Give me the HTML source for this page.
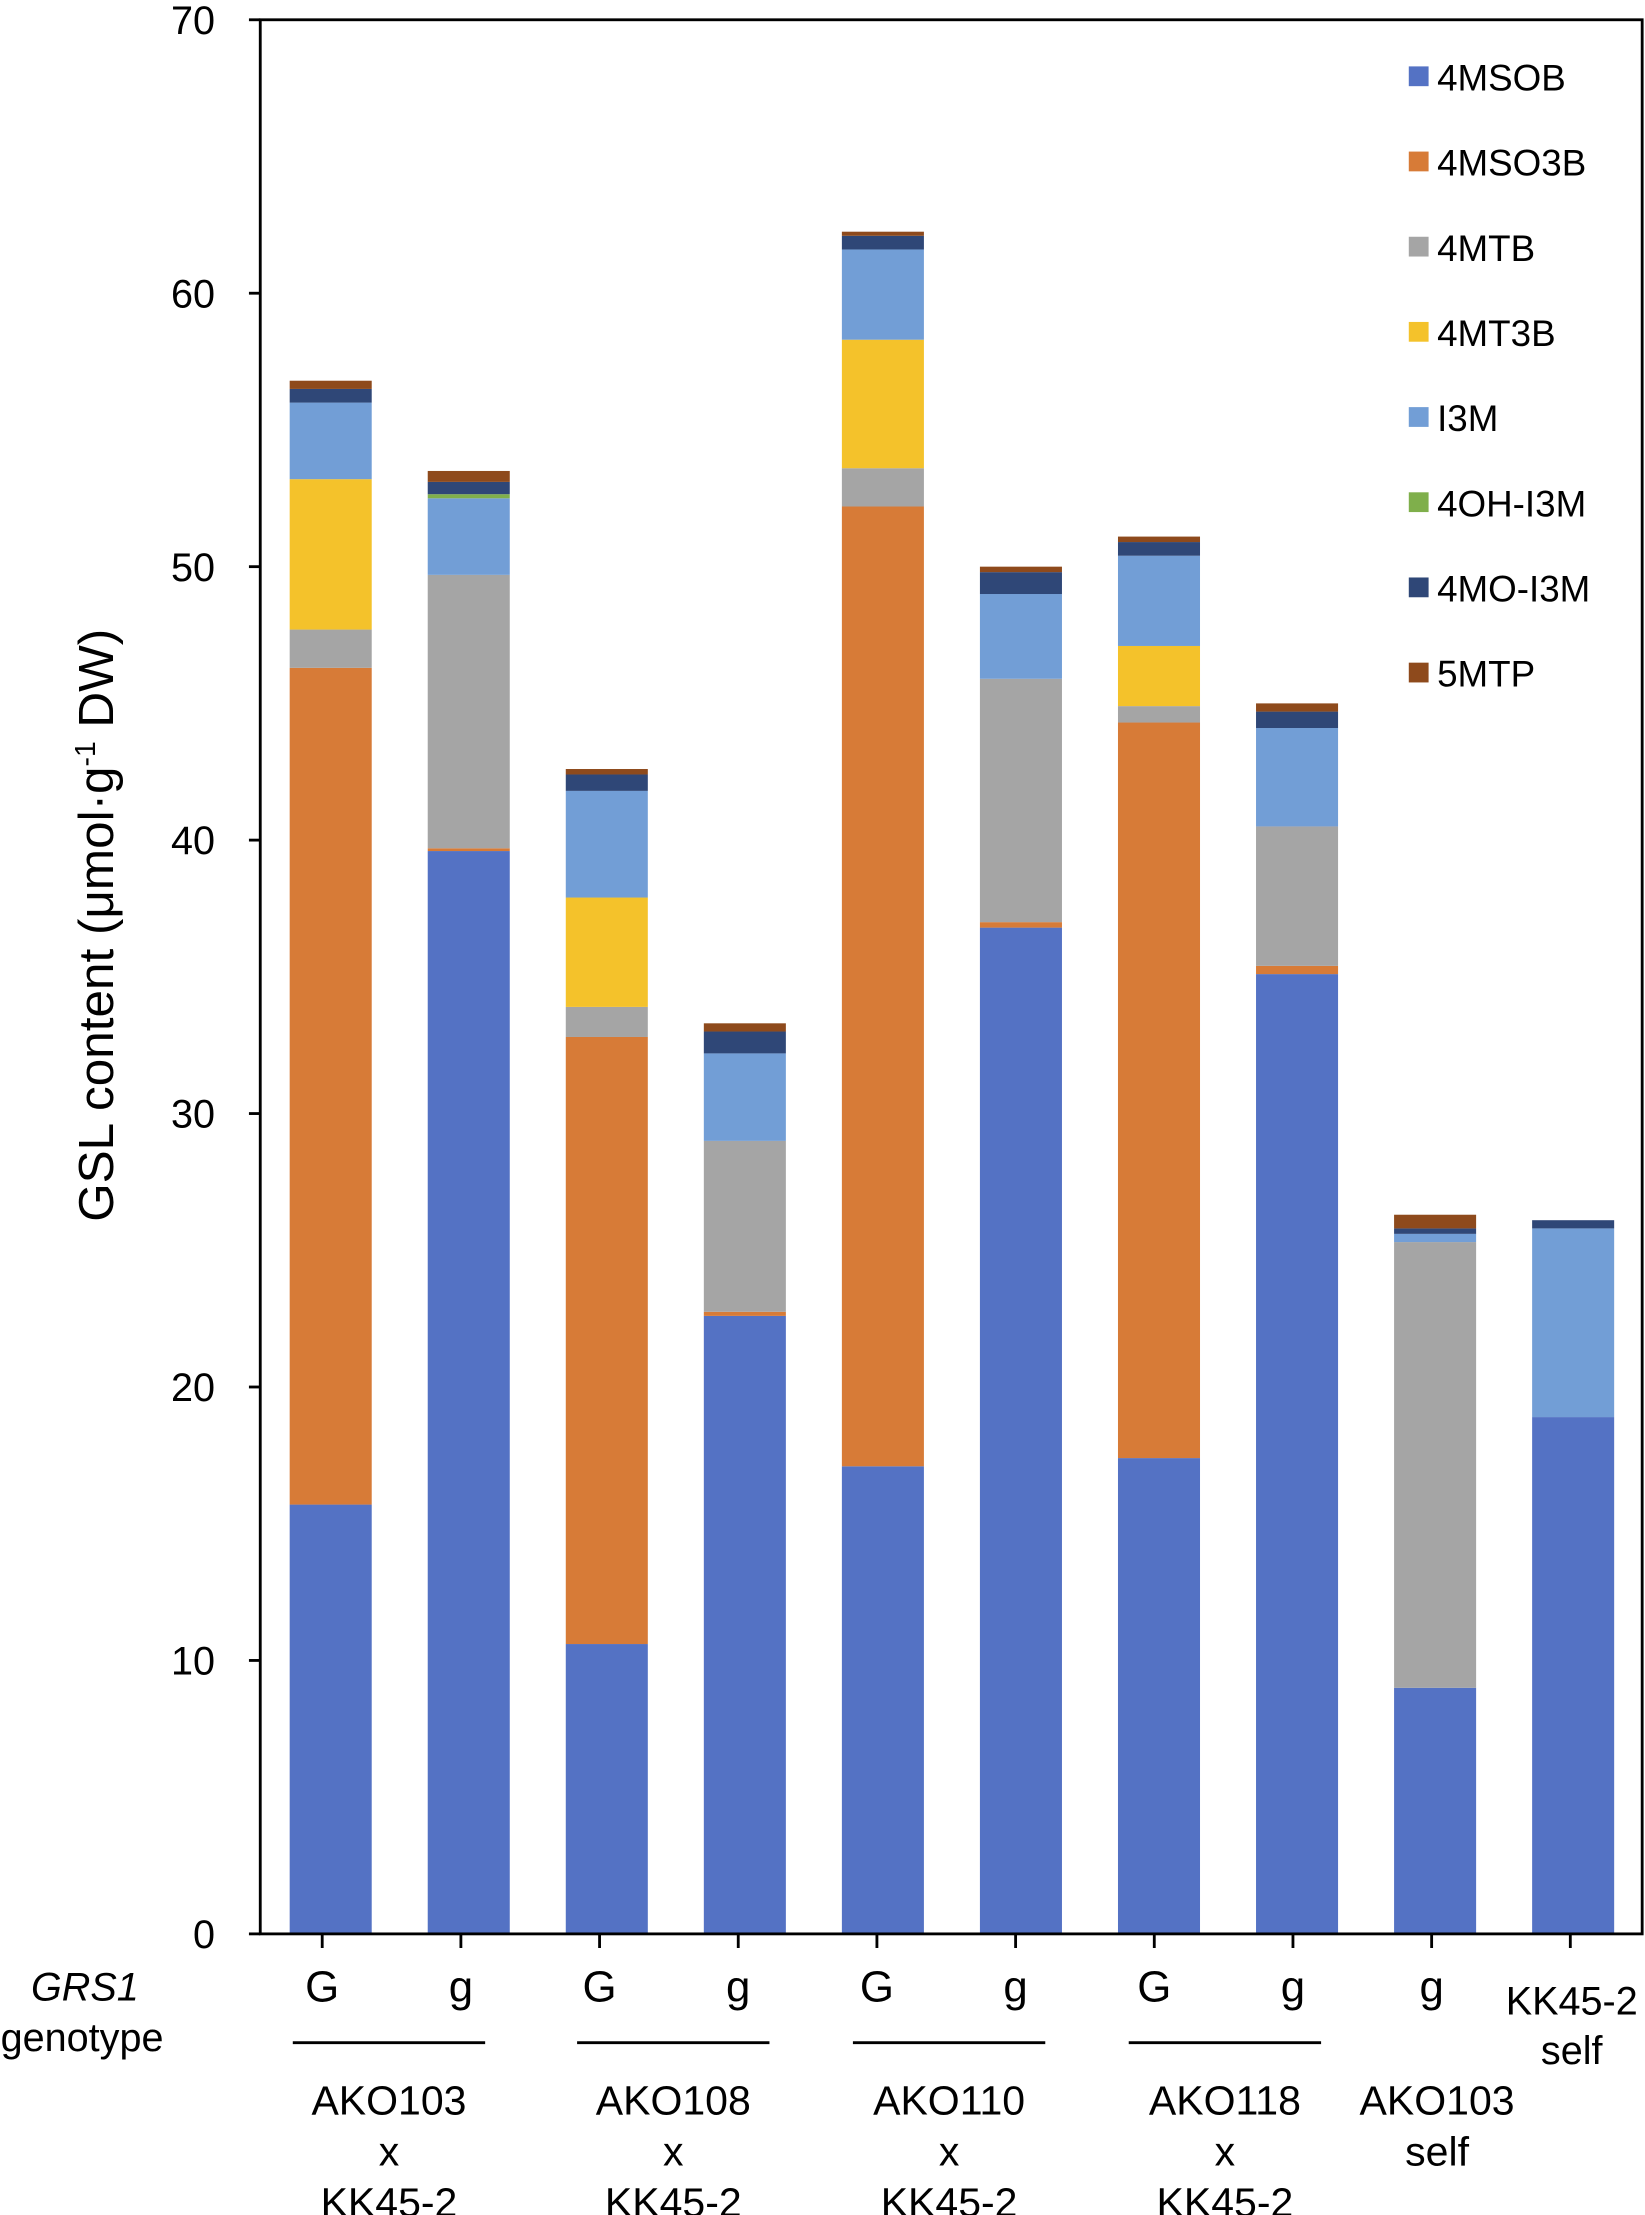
<!DOCTYPE html>
<html><head><meta charset="utf-8"><style>
html,body{margin:0;padding:0;background:#fff}
svg{display:block}
text{font-family:"Liberation Sans",sans-serif;fill:#000}
</style></head><body>
<svg id="chart" width="1645" height="2215" viewBox="0 0 1163 1568" preserveAspectRatio="none" xmlns="http://www.w3.org/2000/svg">
<g id="bars"></g>
<g id="axes"></g>
<g id="legend"></g>
<text transform="translate(80,655) rotate(-90)" text-anchor="middle" font-size="35">GSL content (μmol·g<tspan dy="-13" font-size="20">-1</tspan><tspan dy="13"> DW)</tspan></text>
<text x="60" y="1416" text-anchor="middle" font-size="28" font-style="italic">GRS1</text>
<text x="58" y="1452" text-anchor="middle" font-size="28">genotype</text>
</svg>
<script>
const categories=["G","g","G","g","G","g","G","g","g","KK45-2"];
const seriesNames=["4MSOB","4MSO3B","4MTB","4MT3B","I3M","4OH-I3M","4MO-I3M","5MTP"];
const s4MSOB=[15.7,39.6,10.6,22.6,17.1,36.8,17.4,35.1,9.0,18.9];
const s4MSO3B=[30.6,0.1,22.2,0.15,35.1,0.2,26.9,0.3,0,0];
const s4MTB=[1.4,10.0,1.1,6.25,1.4,8.9,0.6,5.1,16.3,0];
const s4MT3B=[5.5,0,4.0,0,4.7,0,2.2,0,0,0];
const sI3M=[2.8,2.8,3.9,3.2,3.3,3.1,3.3,3.6,0.3,6.9];
const s4OHI3M=[0,0.15,0,0,0,0,0,0,0,0];
const s4MOI3M=[0.5,0.45,0.6,0.8,0.5,0.8,0.5,0.6,0.2,0.3];
const s5MTP=[0.3,0.4,0.2,0.3,0.15,0.2,0.2,0.3,0.5,0];
const yTicks=[0,10,20,30,40,50,60,70];
const groupLabels=[["AKO103","x","KK45-2"],["AKO108","x","KK45-2"],["AKO110","x","KK45-2"],["AKO118","x","KK45-2"],["AKO103","self"]];

const series=[s4MSOB,s4MSO3B,s4MTB,s4MT3B,sI3M,s4OHI3M,s4MOI3M,s5MTP];
const colors=["#5472C4","#D77B37","#A5A5A5","#F4C22B","#729ED6","#7FAF4B","#2F4777","#8E4A1C"];
const NS="http://www.w3.org/2000/svg";
const X0=184,X1=1160,Y0=1369,Y1=14,YMAX=70;
const y=v=>Y0-(v/YMAX)*(Y0-Y1);
const step=(X1-X0)/categories.length;
const xc=i=>X0+step*(i+0.5);
const BW=58;
function mk(tag,attrs,parent){const e=document.createElementNS(NS,tag);for(const k in attrs)e.setAttribute(k,attrs[k]);parent.appendChild(e);return e;}
const gb=document.getElementById('bars'),ga=document.getElementById('axes'),gl=document.getElementById('legend');
categories.forEach((c,i)=>{
  let cum=0;
  series.forEach((s,k)=>{
    const v=s[i]; if(v<=0){return;}
    const r=mk('rect',{x:xc(i)-BW/2+1,y:y(cum+v),width:BW,height:y(cum)-y(cum+v),fill:colors[k]},gb);
    
    
    cum+=v;
  });
  const tx0=xc(i)-5+(i/9)*4;
  const t=mk('line',{x1:tx0,x2:tx0,y1:Y0,y2:Y0+10,stroke:'#000','stroke-width':2},ga);
  
  
  if(i<9){
    const tx=mk('text',{x:tx0,y:1417,'text-anchor':'middle','font-size':31},ga);
    tx.textContent=c;
    
    
  }
});
[["KK45-2",1426],["self",1461]].forEach(([t,yy])=>{
  const tx=mk('text',{x:xc(9),y:yy,'text-anchor':'middle','font-size':28},ga);tx.textContent=t;
  
  
});
const groupX=[275,476,671,866,1016];
groupLabels.forEach((g,j)=>{
  const gx=groupX[j];
  if(j<4){
    const l=mk('line',{x1:gx-68,x2:gx+68,y1:1446,y2:1446,stroke:'#000','stroke-width':2},ga);
    
    
  }
  g.forEach((t,k)=>{
    const tx=mk('text',{x:gx,y:1497+k*36,'text-anchor':'middle','font-size':29},ga);tx.textContent=t;
    
    
  });
});
yTicks.forEach(v=>{
  const l=mk('line',{x1:X0-8,x2:X0,y1:y(v),y2:y(v),stroke:'#000','stroke-width':2},ga);
  
  
  const tx=mk('text',{x:152,y:y(v)+10,'text-anchor':'end','font-size':28},ga);tx.textContent=v;
  
  
});
const frame=mk('rect',{x:X0,y:Y1,width:X1-X0+1,height:Y0-Y1,fill:'none',stroke:'#000','stroke-width':2},ga);


seriesNames.forEach((n,k)=>{
  const yy=54+k*60.3;
  const sq=mk('rect',{x:996,y:yy-7,width:14,height:14,fill:colors[k]},gl);
  
  
  const tx=mk('text',{x:1016,y:yy+10,'font-size':26},gl);tx.textContent=n;
  
  
});
</script>
</body></html>
